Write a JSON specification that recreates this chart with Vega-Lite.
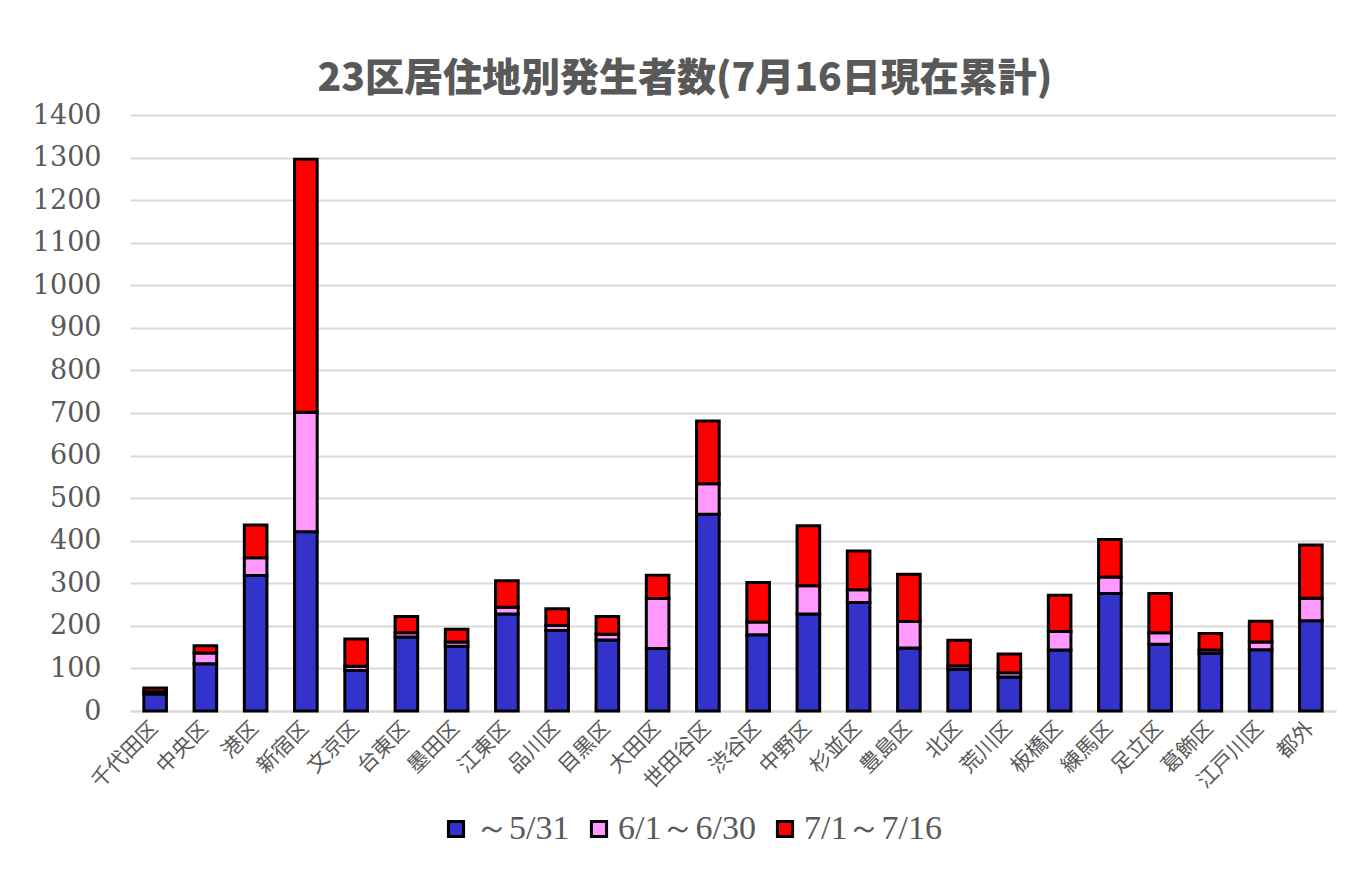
{
  "$schema": "https://vega.github.io/schema/vega-lite/v6.json",
  "autosize": {"type": "none"},
  "width": 1206,
  "height": 596,
  "padding": {"left": 130, "top": 115, "right": 24, "bottom": 169},
  "background": "white",
  "title": {
    "text": "23区居住地別発生者数(7月16日現在累計)",
    "font": "Noto Sans CJK JP",
    "fontWeight": 900,
    "fontSize": 39,
    "color": "#595959",
    "anchor": "middle",
    "frame": "group",
    "dx": -48,
    "offset": 2
  },
  "data": {
    "values": [
      {"ward": "千代田区", "period": "～5/31", "o": 1, "value": 40},
      {"ward": "千代田区", "period": "6/1～6/30", "o": 2, "value": 5},
      {"ward": "千代田区", "period": "7/1～7/16", "o": 3, "value": 9},
      {"ward": "中央区", "period": "～5/31", "o": 1, "value": 111},
      {"ward": "中央区", "period": "6/1～6/30", "o": 2, "value": 25},
      {"ward": "中央区", "period": "7/1～7/16", "o": 3, "value": 17},
      {"ward": "港区", "period": "～5/31", "o": 1, "value": 318},
      {"ward": "港区", "period": "6/1～6/30", "o": 2, "value": 42},
      {"ward": "港区", "period": "7/1～7/16", "o": 3, "value": 77},
      {"ward": "新宿区", "period": "～5/31", "o": 1, "value": 421},
      {"ward": "新宿区", "period": "6/1～6/30", "o": 2, "value": 281},
      {"ward": "新宿区", "period": "7/1～7/16", "o": 3, "value": 594},
      {"ward": "文京区", "period": "～5/31", "o": 1, "value": 95},
      {"ward": "文京区", "period": "6/1～6/30", "o": 2, "value": 10},
      {"ward": "文京区", "period": "7/1～7/16", "o": 3, "value": 64},
      {"ward": "台東区", "period": "～5/31", "o": 1, "value": 174},
      {"ward": "台東区", "period": "6/1～6/30", "o": 2, "value": 10},
      {"ward": "台東区", "period": "7/1～7/16", "o": 3, "value": 38},
      {"ward": "墨田区", "period": "～5/31", "o": 1, "value": 152},
      {"ward": "墨田区", "period": "6/1～6/30", "o": 2, "value": 10},
      {"ward": "墨田区", "period": "7/1～7/16", "o": 3, "value": 30},
      {"ward": "江東区", "period": "～5/31", "o": 1, "value": 228},
      {"ward": "江東区", "period": "6/1～6/30", "o": 2, "value": 16},
      {"ward": "江東区", "period": "7/1～7/16", "o": 3, "value": 62},
      {"ward": "品川区", "period": "～5/31", "o": 1, "value": 189},
      {"ward": "品川区", "period": "6/1～6/30", "o": 2, "value": 12},
      {"ward": "品川区", "period": "7/1～7/16", "o": 3, "value": 39},
      {"ward": "目黒区", "period": "～5/31", "o": 1, "value": 167},
      {"ward": "目黒区", "period": "6/1～6/30", "o": 2, "value": 13},
      {"ward": "目黒区", "period": "7/1～7/16", "o": 3, "value": 42},
      {"ward": "大田区", "period": "～5/31", "o": 1, "value": 147},
      {"ward": "大田区", "period": "6/1～6/30", "o": 2, "value": 117},
      {"ward": "大田区", "period": "7/1～7/16", "o": 3, "value": 55},
      {"ward": "世田谷区", "period": "～5/31", "o": 1, "value": 462},
      {"ward": "世田谷区", "period": "6/1～6/30", "o": 2, "value": 72},
      {"ward": "世田谷区", "period": "7/1～7/16", "o": 3, "value": 147},
      {"ward": "渋谷区", "period": "～5/31", "o": 1, "value": 179},
      {"ward": "渋谷区", "period": "6/1～6/30", "o": 2, "value": 30},
      {"ward": "渋谷区", "period": "7/1～7/16", "o": 3, "value": 93},
      {"ward": "中野区", "period": "～5/31", "o": 1, "value": 228},
      {"ward": "中野区", "period": "6/1～6/30", "o": 2, "value": 66},
      {"ward": "中野区", "period": "7/1～7/16", "o": 3, "value": 141},
      {"ward": "杉並区", "period": "～5/31", "o": 1, "value": 255},
      {"ward": "杉並区", "period": "6/1～6/30", "o": 2, "value": 30},
      {"ward": "杉並区", "period": "7/1～7/16", "o": 3, "value": 91},
      {"ward": "豊島区", "period": "～5/31", "o": 1, "value": 148},
      {"ward": "豊島区", "period": "6/1～6/30", "o": 2, "value": 62},
      {"ward": "豊島区", "period": "7/1～7/16", "o": 3, "value": 111},
      {"ward": "北区", "period": "～5/31", "o": 1, "value": 98},
      {"ward": "北区", "period": "6/1～6/30", "o": 2, "value": 8},
      {"ward": "北区", "period": "7/1～7/16", "o": 3, "value": 60},
      {"ward": "荒川区", "period": "～5/31", "o": 1, "value": 80},
      {"ward": "荒川区", "period": "6/1～6/30", "o": 2, "value": 10},
      {"ward": "荒川区", "period": "7/1～7/16", "o": 3, "value": 44},
      {"ward": "板橋区", "period": "～5/31", "o": 1, "value": 143},
      {"ward": "板橋区", "period": "6/1～6/30", "o": 2, "value": 44},
      {"ward": "板橋区", "period": "7/1～7/16", "o": 3, "value": 85},
      {"ward": "練馬区", "period": "～5/31", "o": 1, "value": 276},
      {"ward": "練馬区", "period": "6/1～6/30", "o": 2, "value": 39},
      {"ward": "練馬区", "period": "7/1～7/16", "o": 3, "value": 88},
      {"ward": "足立区", "period": "～5/31", "o": 1, "value": 157},
      {"ward": "足立区", "period": "6/1～6/30", "o": 2, "value": 27},
      {"ward": "足立区", "period": "7/1～7/16", "o": 3, "value": 92},
      {"ward": "葛飾区", "period": "～5/31", "o": 1, "value": 135},
      {"ward": "葛飾区", "period": "6/1～6/30", "o": 2, "value": 8},
      {"ward": "葛飾区", "period": "7/1～7/16", "o": 3, "value": 39},
      {"ward": "江戸川区", "period": "～5/31", "o": 1, "value": 144},
      {"ward": "江戸川区", "period": "6/1～6/30", "o": 2, "value": 18},
      {"ward": "江戸川区", "period": "7/1～7/16", "o": 3, "value": 49},
      {"ward": "都外", "period": "～5/31", "o": 1, "value": 212},
      {"ward": "都外", "period": "6/1～6/30", "o": 2, "value": 53},
      {"ward": "都外", "period": "7/1～7/16", "o": 3, "value": 125}
    ]
  },
  "mark": {"type": "bar", "stroke": "black", "strokeWidth": 3},
  "encoding": {
    "x": {
      "field": "ward",
      "type": "nominal",
      "sort": null,
      "scale": {"paddingInner": 0.55, "paddingOuter": 0.275},
      "axis": {
        "title": null,
        "labelAngle": -45,
        "labelAlign": "right",
        "labelBaseline": "middle",
        "labelFont": "Noto Sans CJK JP",
        "labelFontSize": 21,
        "labelColor": "#595959",
        "labelPadding": 14,
        "ticks": false,
        "domainColor": "#d9d9d9",
        "domainWidth": 2
      }
    },
    "y": {
      "field": "value",
      "type": "quantitative",
      "stack": "zero",
      "scale": {"domain": [0, 1400], "nice": false},
      "axis": {
        "title": null,
        "values": [0, 100, 200, 300, 400, 500, 600, 700, 800, 900, 1000, 1100, 1200, 1300, 1400],
        "format": "d",
        "labelFont": "DejaVu Serif",
        "labelFontSize": 27,
        "labelColor": "#595959",
        "labelPadding": 29,
        "ticks": false,
        "domain": false,
        "grid": true,
        "gridColor": "#d9d9d9",
        "gridWidth": 2
      }
    },
    "color": {
      "field": "period",
      "type": "nominal",
      "sort": ["～5/31", "6/1～6/30", "7/1～7/16"],
      "scale": {
        "domain": ["～5/31", "6/1～6/30", "7/1～7/16"],
        "range": ["#3333CC", "#FF99FF", "#FF0000"]
      },
      "legend": {
        "title": null,
        "orient": "none",
        "direction": "horizontal",
        "legendX": 309,
        "legendY": 697,
        "labelFont": "Liberation Serif",
        "labelFontSize": 34,
        "labelColor": "#595959",
        "labelOffset": 2,
        "symbolType": "square",
        "symbolSize": 230,
        "symbolStrokeColor": "black",
        "symbolStrokeWidth": 3,
        "symbolOpacity": 1,
        "columnPadding": 12,
        "labelLimit": 300
      }
    },
    "order": {"field": "o", "type": "quantitative"}
  },
  "config": {
    "view": {"stroke": null}
  }
}
